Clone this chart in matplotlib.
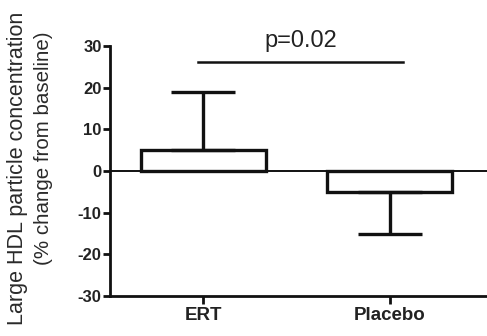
import matplotlib.pyplot as plt
import numpy as np

# Data
groups = ['ERT', 'Placebo']
means = [5.0, -5.0]
sem = [14.0, 10.0]
p_text = 'p=0.02'
p_level = 26.2
y_ticks = [-30, -20, -10, 0, 10, 20, 30]
y_label_lines = ['Large HDL particle concentration', '(% change from baseline)']

plt.rcParams['font.family'] = ['Liberation Sans', 'DejaVu Sans']

fig = plt.figure(figsize=(4.87, 3.36), dpi=100)
ax = fig.add_axes([0.226, 0.119, 0.774, 0.744])

x = np.arange(len(groups))
ink = '#111111'

# Bars with white fill
ax.bar(x, means, width=0.67, color='white', edgecolor=ink, linewidth=2.4, zorder=2)

# One-sided error bars (away from zero)
lower = [e if m < 0 else 0 for m, e in zip(means, sem)]
upper = [e if m >= 0 else 0 for m, e in zip(means, sem)]
ax.errorbar(x, means, yerr=[lower, upper], fmt='none', ecolor=ink,
            elinewidth=2.4, capsize=23, capthick=2.4, zorder=3)

# Baseline at zero
ax.axhline(0, color=ink, linewidth=1.4, zorder=1)

# Significance bracket
ax.plot([-0.03, 1.07], [p_level, p_level], color=ink, linewidth=1.8, clip_on=False)
ax.text(0.52, p_level + 2.4, p_text, ha='center', va='bottom', fontsize=17,
        color='#222222')

ax.set_xlim(-0.5, 1.52)
ax.set_ylim(-30, 30)
ax.set_yticks(y_ticks)
ax.set_yticklabels([str(t) for t in y_ticks], fontweight='bold', fontsize=12,
                   color='#222222')
ax.set_xticks(x)
ax.set_xticklabels(groups, fontweight='bold', fontsize=13.5, color='#222222')

for s in ['top', 'right']:
    ax.spines[s].set_visible(False)
for s in ['left', 'bottom']:
    ax.spines[s].set_linewidth(2.0)
    ax.spines[s].set_color(ink)
ax.tick_params(axis='y', width=2.0, length=5, color=ink, pad=1)
ax.tick_params(axis='x', width=2.0, length=6, color=ink, pad=2)

# Two-line y label, second line sits a bit higher as in the reference
fig.text(0.035, 0.50, y_label_lines[0], rotation=90, ha='center', va='center',
         fontsize=15.5, color='#2a2a2a')
fig.text(0.089, 0.56, y_label_lines[1], rotation=90, ha='center', va='center',
         fontsize=14.8, color='#2a2a2a')

fig.savefig('out.png', dpi=100)
